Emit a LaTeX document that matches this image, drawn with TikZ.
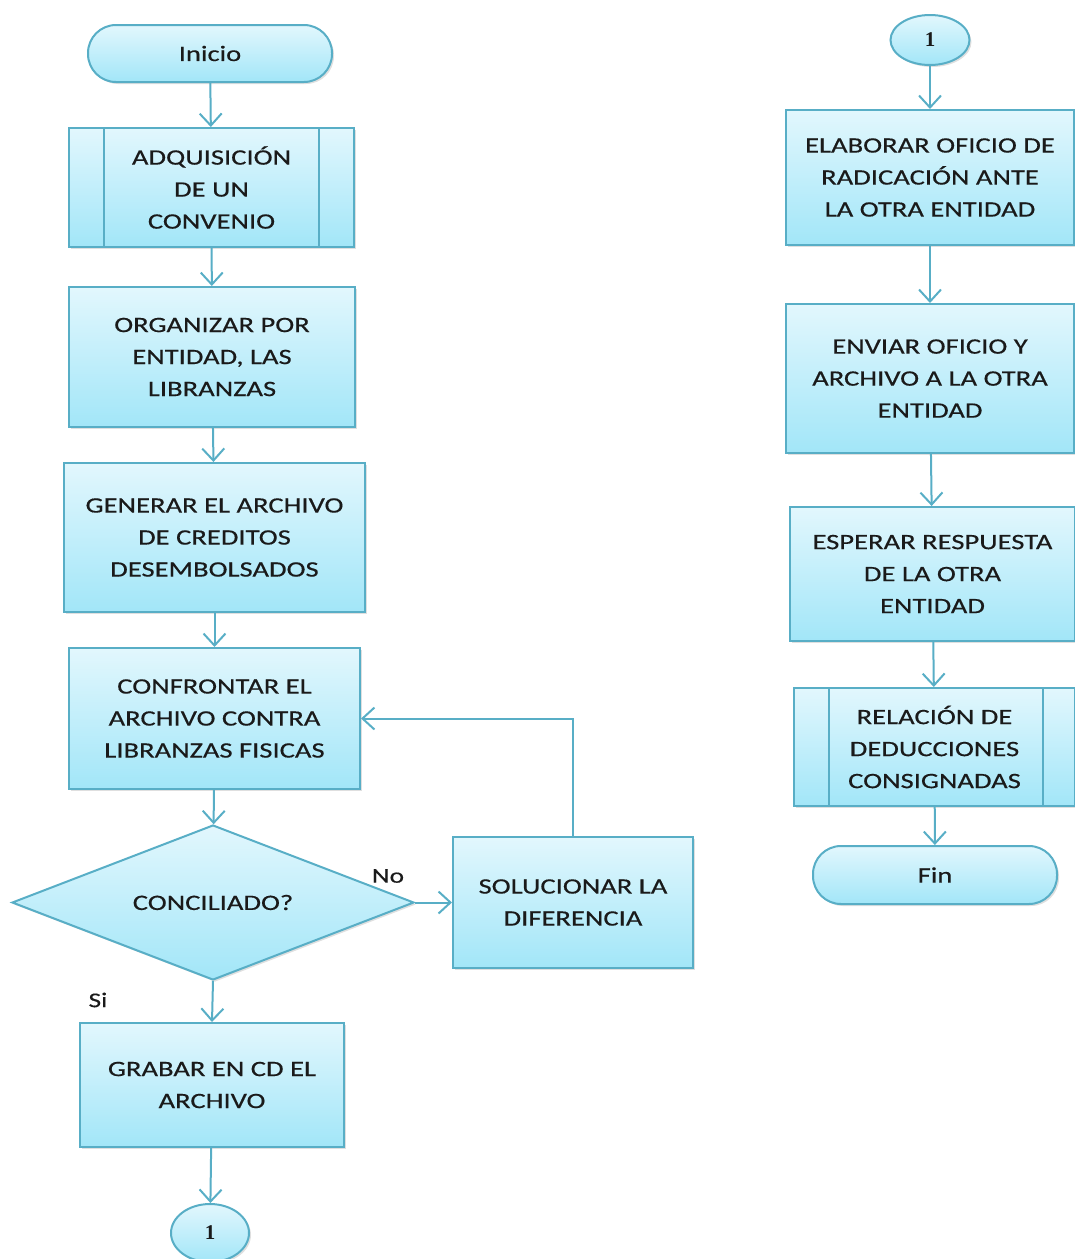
\documentclass[tikz,border=0pt]{standalone}
\usepackage{fontspec}
\setmainfont{Carlito}[FakeStretch=1.3, FakeBold=0.4]
\newfontfamily\numfont{Liberation Serif}
\usetikzlibrary{shapes.geometric,arrows.meta,shadows}
\definecolor{edgec}{HTML}{58AEC6}
\definecolor{topc}{HTML}{E2F7FD}
\definecolor{botc}{HTML}{A2E6F8}
\definecolor{txtc}{HTML}{1A1A1A}
\tikzset{
  base/.style={draw=edgec, line width=2pt, top color=topc, bottom color=botc,
    drop shadow={opacity=0.25, shadow xshift=2pt, shadow yshift=-2pt},
    align=center, inner sep=0pt, text=txtc, font=\fontsize{22}{32}\selectfont},
  procbox/.style={base, rectangle},
  termbox/.style={base, rectangle, rounded corners=28pt},
  conn/.style={base, ellipse, font=\fontsize{21}{24}\selectfont\numfont\bfseries},
  decbox/.style={base, diamond, shape aspect=2.6},
  flow/.style={draw=edgec, line width=2pt, -{Straight Barb[length=12pt,width=22pt,line width=2pt]}},
  lbl/.style={font=\fontsize{21}{24}\selectfont, inner sep=0pt, text=txtc}
}
\begin{document}
\begin{tikzpicture}[x=1pt,y=-1pt]
\useasboundingbox (0,0) rectangle (1075,1259);
% left column
\node[termbox, minimum width=244pt, minimum height=57pt] (ini) at (210,53.5) {Inicio};
\node[procbox, minimum width=285pt, minimum height=119pt] (adq) at (211.5,187.5) {ADQUISICIÓN\\DE UN\\CONVENIO};
\draw[edgec, line width=2pt] ([xshift=36pt]adq.north west) -- ([xshift=36pt]adq.south west)
  ([xshift=-36pt]adq.north east) -- ([xshift=-36pt]adq.south east);
\node[procbox, minimum width=286pt, minimum height=140pt] (org) at (212,357) {ORGANIZAR POR\\ENTIDAD, LAS\\LIBRANZAS};
\node[procbox, minimum width=301pt, minimum height=149pt] (gen) at (214.5,537.5) {GENERAR EL ARCHIVO\\DE CREDITOS\\DESEMBOLSADOS};
\node[procbox, minimum width=291pt, minimum height=141pt] (conf) at (214.5,718.5) {CONFRONTAR EL\\ARCHIVO CONTRA\\LIBRANZAS FISICAS};
\node[decbox, minimum width=402pt, minimum height=155pt] (dec) at (213,902.5) {CONCILIADO?};
\node[procbox, minimum width=240pt, minimum height=131pt] (sol) at (573,902.5) {SOLUCIONAR LA\\DIFERENCIA};
\node[procbox, minimum width=264pt, minimum height=124pt] (grab) at (212,1085) {GRABAR EN CD EL\\ARCHIVO};
\node[conn, minimum width=78pt, minimum height=58pt] (c1) at (210,1233) {1};
\node[lbl] (no) at (388,876) {No};
\node[lbl] (si) at (98,1000) {Si};
% right column
\node[conn, minimum width=79pt, minimum height=50pt] (c2) at (930,40) {1};
\node[procbox, minimum width=288pt, minimum height=135pt] (elab) at (930,177.5) {ELABORAR OFICIO DE\\RADICACIÓN ANTE\\LA OTRA ENTIDAD};
\node[procbox, minimum width=288pt, minimum height=149pt] (env) at (930,378.5) {ENVIAR OFICIO Y\\ARCHIVO A LA OTRA\\ENTIDAD};
\node[procbox, minimum width=285pt, minimum height=134pt] (esp) at (932.5,574) {ESPERAR RESPUESTA\\DE LA OTRA\\ENTIDAD};
\node[procbox, minimum width=281pt, minimum height=118pt] (rel) at (934.5,747) {RELACIÓN DE\\DEDUCCIONES\\CONSIGNADAS};
\draw[edgec, line width=2pt] ([xshift=36pt]rel.north west) -- ([xshift=36pt]rel.south west)
  ([xshift=-33pt]rel.north east) -- ([xshift=-33pt]rel.south east);
\node[termbox, minimum width=244pt, minimum height=58pt] (fin) at (935,875) {Fin};
% connectors
\draw[flow] (ini) -- (adq);
\draw[flow] (adq) -- (org);
\draw[flow] (org) -- (gen);
\draw[flow] (gen) -- (conf);
\draw[flow] (conf) -- (dec);
\draw[flow] (dec.east) -- (sol.west);
\draw[flow] (sol.north) |- (conf.east);
\draw[flow] (dec.south) -- (grab.north);
\draw[flow] (grab) -- (c1);
\draw[flow] (c2) -- (elab);
\draw[flow] (elab) -- (env);
\draw[flow] (env) -- (esp);
\draw[flow] (esp) -- (rel);
\draw[flow] (rel) -- (fin);
\end{tikzpicture}
\end{document}
